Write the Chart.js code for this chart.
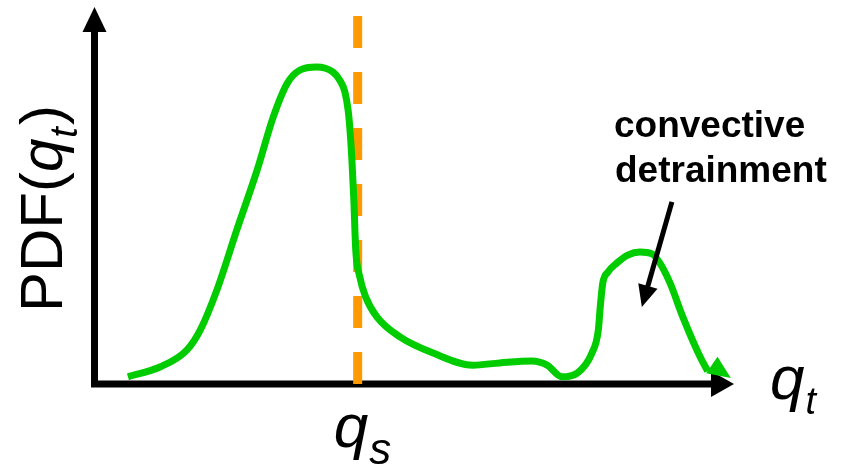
<!DOCTYPE html>
<html>
<head>
<meta charset="utf-8">
<script src="https://cdn.jsdelivr.net/npm/chart.js@4/dist/chart.umd.min.js"></script>
<style>
  html, body { margin: 0; padding: 0; background: #fff; }
  canvas { display: block; }
</style>
</head>
<body>
<canvas id="pdf" width="841" height="466"></canvas>
<script>
// total water qt (0..100) and its PDF (0..100), sketch units
const qtVals = [5.3, 10.3, 14.5, 16.6, 19.2, 22.3, 25.5, 28.0, 30.2, 32.2, 34.8, 37.3, 38.4, 39.2,
  39.7, 40.0, 40.3, 40.6, 40.9, 41.5, 42.4, 44.2, 47.8, 53.0, 59.2, 63.4, 68.4, 70.8, 73.1, 75.5,
  77.8, 78.8, 79.1, 79.5, 80.3, 81.7, 83.4, 85.3, 87.2, 88.4, 90.0, 92.0, 94.7, 95.9];
const pdfVals = [1.9, 4.5, 9.0, 14.3, 24.9, 40.8, 56.8, 70.8, 79.8, 83.3, 84.1, 82.8, 80.6, 77.5,
  72.7, 67.4, 59.4, 48.8, 35.5, 28.6, 23.3, 17.8, 12.5, 8.2, 5.0, 5.6, 6.1, 5.0, 1.9, 2.9,
  8.2, 14.3, 20.4, 26.8, 29.7, 32.1, 34.2, 35.0, 34.5, 32.1, 26.8, 17.8, 7.2, 3.4];
const curveTip = [99.5, 1.6];

// saturation value qs
const qsValue = 41.2;
const qsTop = 97.6;

// "convective detrainment" pointer, from -> to
const pointerFrom = [90.3, 48.3];
const pointerTo = [85.6, 20.4];
const noteLines = ['convective', 'detrainment'];

const GREEN = '#00cc00';
const ORANGE = '#ff9900';
const FONT = '"Liberation Sans", Arial, sans-serif';

function arrowHead(ctx, x0, y0, x1, y1, len, half, color) {
  const a = Math.atan2(y1 - y0, x1 - x0);
  const bx = x1 - len * Math.cos(a), by = y1 - len * Math.sin(a);
  ctx.fillStyle = color;
  ctx.beginPath();
  ctx.moveTo(x1, y1);
  ctx.lineTo(bx - half * Math.sin(a), by + half * Math.cos(a));
  ctx.lineTo(bx + half * Math.sin(a), by - half * Math.cos(a));
  ctx.closePath();
  ctx.fill();
}

// main symbol followed by an italic subscript
function subText(ctx, x, y, main, sub, mainFont, subFont, drop) {
  ctx.font = mainFont;
  ctx.fillText(main, x, y);
  const w = ctx.measureText(main).width;
  ctx.font = subFont;
  ctx.fillText(sub, x + w + 1, y + drop);
  return w + 1 + ctx.measureText(sub).width;
}

const axesPlugin = {
  id: 'axes',
  beforeDatasetsDraw(chart) {
    const { ctx, scales: { x, y } } = chart;
    const x0 = x.getPixelForValue(0) + 0.5;
    const y0 = y.getPixelForValue(0);
    const xEnd = x.getPixelForValue(100);
    const yEnd = y.getPixelForValue(100);
    ctx.save();
    ctx.strokeStyle = '#000';
    ctx.lineWidth = 7;
    ctx.beginPath();
    ctx.moveTo(x0, y0 + 3.5);
    ctx.lineTo(x0, yEnd + 20);
    ctx.moveTo(x0, y0);
    ctx.lineTo(xEnd - 18, y0);
    ctx.stroke();
    arrowHead(ctx, x0, y0, x0, yEnd, 25, 12, '#000');
    arrowHead(ctx, x0, y0, xEnd, y0, 23, 13, '#000');
    ctx.restore();
  }
};

const notesPlugin = {
  id: 'notes',
  afterDatasetsDraw(chart) {
    const { ctx, scales: { x, y } } = chart;
    ctx.save();

    // arrow tip at the end of the curve
    const n = qtVals.length - 1;
    arrowHead(ctx,
      x.getPixelForValue(qtVals[n - 1]), y.getPixelForValue(pdfVals[n - 1]),
      x.getPixelForValue(curveTip[0]), y.getPixelForValue(curveTip[1]), 23, 10, GREEN);

    // pointer to the second mode
    const fx = x.getPixelForValue(pointerFrom[0]), fy = y.getPixelForValue(pointerFrom[1]);
    const tx = x.getPixelForValue(pointerTo[0]), ty = y.getPixelForValue(pointerTo[1]);
    const a = Math.atan2(ty - fy, tx - fx);
    ctx.strokeStyle = '#000';
    ctx.lineWidth = 5;
    ctx.beginPath();
    ctx.moveTo(fx, fy);
    ctx.lineTo(tx - 18 * Math.cos(a), ty - 18 * Math.sin(a));
    ctx.stroke();
    arrowHead(ctx, fx, fy, tx, ty, 22, 10, '#000');

    ctx.fillStyle = '#000';
    ctx.textBaseline = 'alphabetic';
    ctx.textAlign = 'left';
    ctx.font = 'bold 37px ' + FONT;
    ctx.fillText(noteLines[0], 614, 137);
    ctx.fillText(noteLines[1], 615, 182);

    // axis symbols
    subText(ctx, 770, 399, 'q', 't', 'italic 62px ' + FONT, 'italic 38px ' + FONT, 15);
    const qsx = x.getPixelForValue(qsValue);
    subText(ctx, qsx - 24, 447, 'q', 's', 'italic 62px ' + FONT, 'italic 44px ' + FONT, 17);

    // y-axis title, read bottom to top
    ctx.translate(62, 312);
    ctx.rotate(-Math.PI / 2);
    ctx.font = '60px ' + FONT;
    ctx.fillText('PDF(', 0, 0);
    let w = ctx.measureText('PDF(').width;
    w += subText(ctx, w, 0, 'q', 't', 'italic 60px ' + FONT, 'italic 38px ' + FONT, 15);
    ctx.font = '60px ' + FONT;
    ctx.fillText(')', w + 2, 0);
    ctx.restore();
  }
};

new Chart(document.getElementById('pdf'), {
  type: 'line',
  data: {
    datasets: [
      {
        data: qtVals.map((v, i) => ({ x: v, y: pdfVals[i] })),
        borderColor: GREEN,
        borderWidth: 7,
        cubicInterpolationMode: 'monotone',
        pointRadius: 0,
        fill: false
      },
      {
        data: [{ x: qsValue, y: qsTop }, { x: qsValue, y: 0 }],
        borderColor: ORANGE,
        borderWidth: 9,
        borderDash: [32, 24],
        borderCapStyle: 'butt',
        pointRadius: 0,
        fill: false
      }
    ]
  },
  options: {
    responsive: false,
    animation: false,
    layout: { padding: { left: 94, right: 107, top: 7, bottom: 82 } },
    scales: {
      x: { type: 'linear', min: 0, max: 100, display: false },
      y: { min: 0, max: 100, display: false }
    },
    plugins: { legend: { display: false }, tooltip: { enabled: false } }
  },
  plugins: [axesPlugin, notesPlugin]
});
</script>
</body>
</html>
